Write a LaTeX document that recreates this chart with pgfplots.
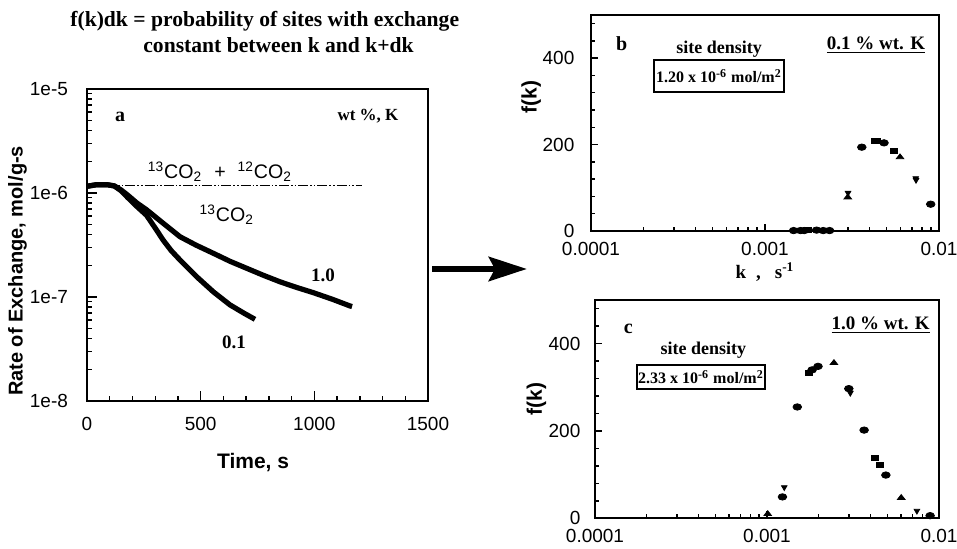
\documentclass[border=0pt]{standalone}
\usepackage{fontspec}
\setmainfont{Liberation Serif}
\setsansfont{Liberation Sans}
\usepackage{pgfplots}
\pgfplotsset{compat=1.18}
\usetikzlibrary{arrows.meta}

\pgfplotsset{
  panel/.style={
    scale only axis, anchor=south west,
    axis line style={line width=0.9pt},
    tick style={black, line width=0.7pt},
    tick align=inside, tick pos=left,
    ticklabel style={font=\fontsize{9.5}{10}\sffamily},
    /pgf/number format/assume math mode=true,
    /pgf/number format/1000 sep={},
    label style={font=\fontsize{10.5}{12}\sffamily\bfseries},
  },
  dots/.style={only marks, mark size=1.6pt, mark options={fill=black, draw=black, xscale=1.35}},
}
\newcommand{\co}[1]{\textsuperscript{#1}CO\textsubscript{2}}

\begin{document}
\begin{tikzpicture}[x=1pt,y=1pt]
\useasboundingbox (0,0) rectangle (478.5,274.5);

% ---- panel a
\begin{axis}[panel, at={(43.5pt,74pt)}, width=170.5pt, height=156pt,
  xmin=0, xmax=1500, ymode=log, ymin=1e-8, ymax=1e-5,
  xtick={0,500,1000,1500},
  minor xtick={100,200,300,400,600,700,800,900,1100,1200,1300,1400},
  ytick={1e-8,1e-7,1e-6,1e-5}, yticklabels={1e-8,1e-7,1e-6,1e-5},
  major tick length=5pt, minor tick length=2.5pt,
  xticklabel style={yshift=-4.6pt}, yticklabel style={xshift=-6pt},
  xlabel={Time, s}, xlabel style={at={(axis description cs:0.487,-0.196)}, anchor=center},
  ylabel={Rate of Exchange, mol/g-s},
  ylabel style={at={(axis description cs:-0.204,0.417)}, anchor=center, font=\fontsize{10}{12}\sffamily\bfseries},
]
\addplot[black, line width=0.6pt,
  dash pattern=on 5pt off 1pt on 0.8pt off 1pt on 0.8pt off 1pt]
  coordinates {(0,1.19e-6) (1210,1.19e-6)};
% 1.0 wt% K
\addplot[black, line width=2.6pt, line join=round] coordinates {
  (0,1.16e-6)(40,1.2e-6)(90,1.2e-6)(120,1.17e-6)(150,1.07e-6)(180,9.5e-7)
  (220,8.0e-7)(262,6.9e-7)(336,5.1e-7)(409,3.8e-7)(480,3.15e-7)(556,2.63e-7)
  (630,2.2e-7)(702,1.89e-7)(775,1.62e-7)(849,1.40e-7)(920,1.24e-7)
  (996,1.10e-7)(1080,9.5e-8)(1157,8.2e-8)(1166,8.1e-8)};
% 0.1 wt% K
\addplot[black, line width=2.6pt, line join=round] coordinates {
  (0,1.16e-6)(40,1.2e-6)(90,1.2e-6)(120,1.17e-6)(150,1.05e-6)(180,9.0e-7)
  (220,7.4e-7)(262,6.1e-7)(300,4.6e-7)(336,3.5e-7)(370,2.8e-7)(409,2.27e-7)
  (482,1.57e-7)(556,1.12e-7)(629,8.4e-8)(690,7.0e-8)(739,6.1e-8)};
\end{axis}

% ---- panel b
\begin{axis}[panel, at={(295.5pt,159pt)}, width=174pt, height=108pt,
  xmode=log, xmin=1e-4, xmax=1e-2, ymin=0, ymax=500,
  xtick={1e-4,1e-3,1e-2}, xticklabels={0.0001,0.001,0.01},
  ytick={0,200,400}, minor ytick={40,80,120,160,240,280,320,360,440,480},
  major tick length=3.5pt, minor tick length=2.2pt,
  yticklabel style={xshift=-4.8pt}, xticklabel style={yshift=-2pt},
  xlabel={k\hspace{5pt},\hspace{7pt}s\textsuperscript{-1}},
  xlabel style={at={(axis description cs:0.5,-0.19)}, anchor=center, font=\fontsize{9.5}{11}\rmfamily\bfseries},
  ylabel={f(k)}, ylabel style={at={(axis description cs:-0.172,0.62)}, anchor=center},
]
\addplot[dots, mark=*] coordinates {(1.46e-3,1)(1.60e-3,1)(1.68e-3,1)(1.98e-3,2)(2.16e-3,1)(2.35e-3,1)(3.6e-3,194)(4.83e-3,204)(8.96e-3,62)};
\addplot[dots, mark=square*, mark size=1.3pt] coordinates {(1.76e-3,2)(4.29e-3,208)(4.42e-3,208)(5.47e-3,185)};
\addplot[dots, mark=triangle*] coordinates {(2.99e-3,78)(5.97e-3,171)};
\addplot[dots, mark=triangle*, mark options={rotate=180}] coordinates {(3.0e-3,88)(7.38e-3,118)(7.35e-3,122)};
\end{axis}

% ---- panel c
\begin{axis}[panel, at={(297.5pt,15.35pt)}, width=172pt, height=109.15pt,
  xmode=log, xmin=1e-4, xmax=1e-2, ymin=0, ymax=500,
  xtick={1e-4,1e-3,1e-2}, xticklabels={0.0001,0.001,0.01},
  ytick={0,200,400}, minor ytick={40,80,120,160,240,280,320,360,440,480},
  major tick length=3.5pt, minor tick length=2.2pt,
  yticklabel style={xshift=-3.8pt}, xticklabel style={yshift=-2pt},
  ylabel={f(k)}, ylabel style={at={(axis description cs:-0.17,0.546)}, anchor=center},
]
\addplot[dots, mark=*] coordinates {(1.23e-3,49)(1.50e-3,255)(1.83e-3,340)(1.98e-3,348)(2.99e-3,297)(3.67e-3,202)(4.91e-3,99)(8.88e-3,6)};
\addplot[dots, mark=square*, mark size=1.3pt] coordinates {(1.75e-3,333)(4.25e-3,139)(4.52e-3,122)};
\addplot[dots, mark=triangle*] coordinates {(1.01e-3,10)(2.45e-3,356)(6.03e-3,47)};
\addplot[dots, mark=triangle*, mark options={rotate=180}] coordinates {(1.26e-3,71)(3.05e-3,287)(7.44e-3,17)};
\end{axis}

% ---- texts
\begin{scope}[font=\fontsize{10}{12}\rmfamily\bfseries]
\node[anchor=base west, inner sep=0, font=\fontsize{10.8}{13}\rmfamily\bfseries] at (35,261) {f(k)dk = probability of sites with exchange};
\node[anchor=base west, inner sep=0, font=\fontsize{10.8}{13}\rmfamily\bfseries] at (71.5,248.2) {constant between k and k+dk};
\node at (60,216.2) {a};
\node[font=\fontsize{8.5}{10}\rmfamily\bfseries] at (184,216.2) {wt \%, K};
\node[font=\fontsize{9.5}{10}\rmfamily\bfseries] at (161.5,137) {1.0};
\node[font=\fontsize{9.5}{10}\rmfamily\bfseries] at (117,103.2) {0.1};
\node at (310.8,252.8) {b};
\node at (314.2,110.3) {c};
\end{scope}
\node[anchor=base, font=\fontsize{9.8}{11}\sffamily] at (110,185) {\co{13}\hspace{6pt}+\hspace{6pt}\co{12}};
\node[anchor=base, font=\fontsize{9.8}{11}\sffamily] at (113.4,163.7) {\co{13}};

\begin{scope}[font=\fontsize{9}{11}\rmfamily\bfseries]
\node at (359.5,249.8) {site density};
\node[draw, line width=0.9pt, minimum width=65pt, minimum height=16pt, inner sep=0,
  font=\fontsize{8}{9}\rmfamily\bfseries] at (359.5,236.5) {1.20 x 10\textsuperscript{-6} mol/m\textsuperscript{2}};
\node[font=\fontsize{9.5}{11}\rmfamily\bfseries] at (438,252) {\underline{0.1 \% wt. K}};
\node at (351.7,99.5) {site density};
\node[draw, line width=0.9pt, minimum width=64pt, minimum height=12pt, inner sep=0,
  font=\fontsize{8}{9}\rmfamily\bfseries] at (350.5,86) {2.33 x 10\textsuperscript{-6} mol/m\textsuperscript{2}};
\node[font=\fontsize{9.5}{11}\rmfamily\bfseries] at (440.3,112) {\underline{1.0 \% wt. K}};
\end{scope}

\draw[line width=3.3pt, -{Stealth[length=19pt, width=12pt, inset=3pt]}] (216,140) -- (263.5,140);
\end{tikzpicture}
\end{document}
